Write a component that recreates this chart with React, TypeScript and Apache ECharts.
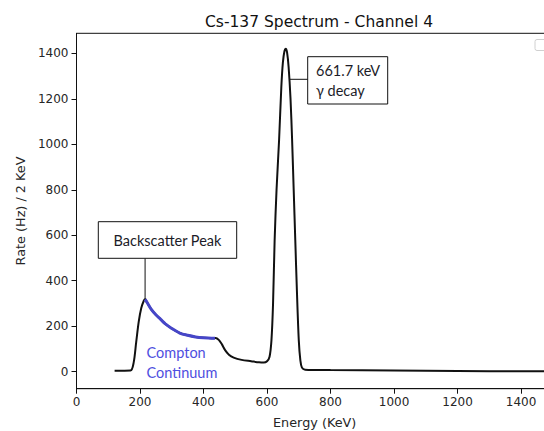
import React, { useEffect, useRef } from "react";
import * as echarts from "echarts";

const spectrum: [number, number][] = [
  [120, 4], [170, 5], [180, 40], [188, 130], [196, 220], [204, 280], [212, 312], [216, 318],
  [222, 305], [235, 275], [250, 250], [265, 230], [280, 210], [300, 190], [325, 170],
  [350, 160], [375, 153], [400, 149], [425, 147], [438, 148], [448, 140], [458, 120],
  [468, 95], [480, 75], [495, 62], [520, 52], [550, 46], [575, 41], [590, 40], [600, 46],
  [608, 66], [614, 139], [619, 300], [624, 579], [630, 800], [638, 1019], [645, 1250],
  [650, 1360], [655, 1410], [659, 1420], [663, 1405], [668, 1340], [674, 1200],
  [679, 1019], [684, 800], [689, 579], [694, 360], [700, 139], [705, 50], [710, 18],
  [720, 9], [800, 7], [1000, 5], [1200, 3], [1400, 2], [1500, 2],
];

const compton: [number, number][] = [
  [216, 318], [222, 305], [235, 275], [250, 250], [265, 230], [280, 210], [300, 190],
  [325, 170], [350, 160], [375, 153], [400, 149], [425, 147], [436, 147],
];

const xTicks = [0, 200, 400, 600, 800, 1000, 1200, 1400];
const yTicks = [0, 200, 400, 600, 800, 1000, 1200, 1400];

const backscatterPeak: [number, number] = [216, 318];
const gammaPeakSide: [number, number] = [670, 1320];

export default function App() {
  const ref = useRef<HTMLDivElement>(null);
  useEffect(() => {
    if (!ref.current) return;
    document.body.style.margin = "0";
    const chart = echarts.init(ref.current, null, { renderer: "svg" });
    const axisText = { color: "#262626", fontFamily: "DejaVu Sans", fontSize: 12 };
    chart.setOption({
      animation: false,
      title: {
        text: "Cs-137 Spectrum - Channel 4",
        left: 314,
        top: 9,
        textAlign: "center",
        textStyle: { fontFamily: "DejaVu Sans", fontSize: 15.5, fontWeight: "normal", color: "#111" },
      },
      grid: {
        left: 76.5, top: 33.3, bottom: 42.3, right: -8.8,
        outerBoundsMode: "none", containLabel: false,
        show: true, borderColor: "#111", borderWidth: 1,
      },
      xAxis: {
        type: "value", min: 0, max: 1500,
        name: "Energy (KeV)", nameLocation: "middle", nameGap: 27,
        nameTextStyle: { ...axisText, fontSize: 12.8 },
        axisLine: { show: true, onZero: false, lineStyle: { color: "#111" } },
        axisTick: { show: true, length: 5, customValues: xTicks, lineStyle: { color: "#111" } },
        axisLabel: { ...axisText, margin: 7, customValues: xTicks, formatter: (v: number) => String(v) },
        splitLine: { show: false },
      },
      yAxis: {
        type: "value", min: -74.8, max: 1488,
        name: "Rate (Hz) / 2 KeV", nameLocation: "middle", nameGap: 50,
        nameTextStyle: { ...axisText, fontSize: 12.8 },
        axisLine: { show: true, onZero: false, lineStyle: { color: "#111" } },
        axisTick: { show: true, length: 5, customValues: yTicks, lineStyle: { color: "#111" } },
        axisLabel: { ...axisText, margin: 8, customValues: yTicks, formatter: (v: number) => String(v) },
        splitLine: { show: false },
      },
      series: [
        {
          type: "line", data: spectrum, showSymbol: false, smooth: 0.3,
          lineStyle: { color: "#111", width: 2 },
        },
        {
          type: "line", data: compton, showSymbol: false, smooth: 0.3,
          lineStyle: { color: "#4646c8", width: 3 },
        },
      ],
    });
    const bp = chart.convertToPixel({ gridIndex: 0 }, backscatterPeak) as number[];
    const gp = chart.convertToPixel({ gridIndex: 0 }, gammaPeakSide) as number[];
    const annFont = "Lato, 'Open Sans', sans-serif";
    chart.setOption({
      graphic: [
        { type: "line", shape: { x1: bp[0], y1: bp[1], x2: bp[0], y2: 258.3 }, style: { stroke: "#111", lineWidth: 1 } },
        { type: "rect", shape: { x: 98.3, y: 221.7, width: 138.4, height: 36.6 }, style: { fill: "#fff", stroke: "#111", lineWidth: 1 } },
        { type: "text", x: 167.5, y: 240, style: { text: "Backscatter Peak", font: `14.5px ${annFont}`, fill: "#1c1c28", align: "center", verticalAlign: "middle" } },
        { type: "line", shape: { x1: gp[0], y1: 79.3, x2: 308, y2: 79.3 }, style: { stroke: "#111", lineWidth: 1 } },
        { type: "rect", shape: { x: 307.7, y: 56.7, width: 80, height: 47.3 }, style: { fill: "#fff", stroke: "#111", lineWidth: 1 } },
        { type: "text", x: 316, y: 70, style: { text: "661.7 keV", font: `14.5px ${annFont}`, fill: "#1c1c28", verticalAlign: "middle" } },
        { type: "text", x: 316, y: 90, style: { text: "γ decay", font: `14.5px ${annFont}`, fill: "#1c1c28", verticalAlign: "middle" } },
        { type: "text", x: 146.5, y: 352, style: { text: "Compton", font: `14.5px ${annFont}`, fill: "#4f4fe0", verticalAlign: "middle" } },
        { type: "text", x: 146.5, y: 372, style: { text: "Continuum", font: `14.5px ${annFont}`, fill: "#4f4fe0", verticalAlign: "middle" } },
        { type: "rect", shape: { x: 535, y: 39.5, width: 20, height: 11, r: 2 }, style: { fill: "#fff", stroke: "#d0d0d0", lineWidth: 1 } },
      ],
    });
    return () => chart.dispose();
  }, []);
  return <div ref={ref} style={{ width: 544, height: 431 }} />;
}
